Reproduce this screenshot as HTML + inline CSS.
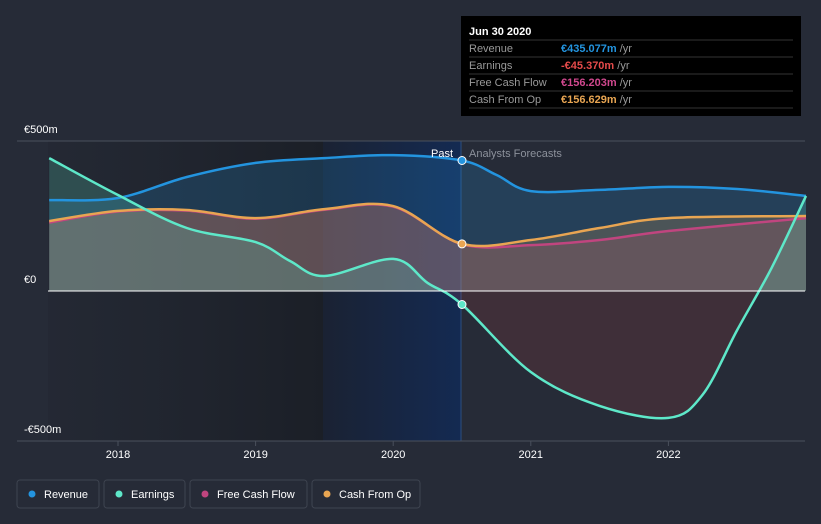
<!DOCTYPE html>
<html><head><meta charset="utf-8"><style>
body{margin:0;background:#262b37;font-family:"Liberation Sans",sans-serif;}
svg{display:block}
</style></head><body>
<svg id="c" width="821" height="524">
<defs>
<linearGradient id="gl" x1="0" x2="1" y1="0" y2="0"><stop offset="0" stop-color="#1f232c" stop-opacity="0.3"/><stop offset="1" stop-color="#1b1f27"/></linearGradient>
<linearGradient id="gb" x1="0" x2="1" y1="0" y2="0"><stop offset="0" stop-color="#1a2233"/><stop offset="1" stop-color="#142a52"/></linearGradient>
<clipPath id="above"><rect x="0" y="0" width="821" height="291"/></clipPath>
<clipPath id="below"><rect x="0" y="291" width="821" height="233"/></clipPath>
</defs>
<rect x="48" y="141" width="275" height="300" fill="url(#gl)"/>
<rect x="323" y="141" width="138" height="300" fill="url(#gb)"/>
<line x1="461" y1="141" x2="461" y2="441" stroke="#2b4f80" stroke-width="1"/>
<line x1="17" y1="141" x2="805" y2="141" stroke="#4a505c"/>
<line x1="17" y1="441" x2="805" y2="441" stroke="#4a505c"/>
<g id="areas"></g><g id="lines"></g>
<line x1="48" y1="291" x2="805" y2="291" stroke="#ffffff" stroke-width="1"/>
<g id="dots"></g>
<g font-size="11" fill="#fff">
<text x="24" y="133">€500m</text>
<text x="24" y="283">€0</text>
<text x="24" y="433">-€500m</text>
<text x="453" y="157" text-anchor="end" font-size="11">Past</text>
<text x="469" y="157" fill="#8c919b" font-size="11">Analysts Forecasts</text>
</g>
<g id="xt" font-size="11" fill="#fff"></g>
<g>
<rect x="461" y="16" width="340" height="100" fill="#000"/>
<text x="469" y="35" font-size="11" font-weight="bold" fill="#fff">Jun 30 2020</text>
<g stroke="#333"><line x1="469" y1="40" x2="793" y2="40"/><line x1="469" y1="57" x2="793" y2="57"/><line x1="469" y1="74" x2="793" y2="74"/><line x1="469" y1="91" x2="793" y2="91"/><line x1="469" y1="108" x2="793" y2="108"/></g>
<g font-size="11" fill="#999">
<text x="469" y="52">Revenue</text><text x="469" y="69">Earnings</text><text x="469" y="86">Free Cash Flow</text><text x="469" y="103">Cash From Op</text></g>
<g font-size="11" font-weight="bold">
<text x="561" y="52" fill="#2394df">€435.077m <tspan fill="#999" font-weight="normal">/yr</tspan></text>
<text x="561" y="69" fill="#e64b4b">-€45.370m <tspan fill="#999" font-weight="normal">/yr</tspan></text>
<text x="561" y="86" fill="#d1488e">€156.203m <tspan fill="#999" font-weight="normal">/yr</tspan></text>
<text x="561" y="103" fill="#e8a552">€156.629m <tspan fill="#999" font-weight="normal">/yr</tspan></text></g>
</g>
<g id="legend" font-size="11" fill="#fff"></g>
</svg>
<script>
const years=[2018,2019,2020,2021,2022];
const revT=[2017.5,2018,2018.5,2019,2019.5,2020,2020.5,2020.75,2021,2021.5,2022,2022.5,2023];
const revV=[303,310,380,427,443,453,435,387,333,337,347,340,317];
const earnT=[2017.5,2018,2018.5,2019,2019.25,2019.5,2020,2020.25,2020.5,2021,2021.5,2022,2022.25,2022.5,2022.75,2023];
const earnV=[443,320,210,163,100,50,107,27,-45,-270,-383,-423,-345,-130,77,317];
const cfoT=[2017.5,2018,2018.5,2019,2019.5,2020,2020.5,2021,2021.5,2022,2023];
const cfoV=[233,267,270,243,273,283,157,170,210,243,250];
const fcfT=[2017.5,2018,2018.5,2019,2019.5,2020,2020.5,2021,2021.5,2022,2023];
const fcfV=[228,265,268,241,271,281,156,153,170,200,243];
const X=t=>118+(t-2018)*137.6, Y=v=>291-v*0.3;
const NS='http://www.w3.org/2000/svg';
function path(T,V){const p=T.map((t,i)=>[X(t),Y(V[i])]);let d=`M${p[0][0]},${p[0][1]}`;
for(let i=0;i<p.length-1;i++){const p0=p[i-1]||p[i],p1=p[i],p2=p[i+1],p3=p[i+2]||p2;
d+=`C${p1[0]+(p2[0]-p0[0])/6},${p1[1]+(p2[1]-p0[1])/6} ${p2[0]-(p3[0]-p1[0])/6},${p2[1]-(p3[1]-p1[1])/6} ${p2[0]},${p2[1]}`;}return [d,p];}
const series=[['revenue',revT,revV,'#2394df'],['free-cash-flow',fcfT,fcfV,'#c0457f'],['cash-from-op',cfoT,cfoV,'#e8a552'],['earnings',earnT,earnV,'#5ee8c9']];
const A=document.getElementById('areas'),L=document.getElementById('lines'),D=document.getElementById('dots');
series.forEach(([n,T,V,c])=>{const [d,p]=path(T,V);
const ad=d+`L${p[p.length-1][0]},291L${p[0][0]},291Z`;
const a=document.createElementNS(NS,'path');a.setAttribute('d',ad);a.setAttribute('fill',c);a.setAttribute('fill-opacity','0.2');a.setAttribute('clip-path','url(#above)');

A.appendChild(a);
const b=document.createElementNS(NS,'path');b.setAttribute('d',ad);b.setAttribute('fill','#e64b4b');b.setAttribute('fill-opacity','0.13');b.setAttribute('clip-path','url(#below)');

A.appendChild(b);
const l=document.createElementNS(NS,'path');l.setAttribute('d',d);l.setAttribute('fill','none');l.setAttribute('stroke',c);l.setAttribute('stroke-width','2.5');

L.appendChild(l);
const i=T.indexOf(2020.5);if(i>=0&&n!=='free-cash-flow'){const ci=document.createElementNS(NS,'circle');ci.setAttribute('cx',X(2020.5));ci.setAttribute('cy',Y(V[i]));ci.setAttribute('r',4);ci.setAttribute('fill',c);ci.setAttribute('stroke','#fff');

D.appendChild(ci);}});
const xt=document.getElementById('xt');
years.forEach(y=>{const t=document.createElementNS(NS,'text');t.setAttribute('x',X(y));t.setAttribute('y',458);t.setAttribute('text-anchor','middle');t.textContent=y;

xt.appendChild(t);
const k=document.createElementNS(NS,'line');k.setAttribute('x1',X(y));k.setAttribute('x2',X(y));k.setAttribute('y1',441);k.setAttribute('y2',446);k.setAttribute('stroke','#4a505c');xt.appendChild(k);});
const leg=[['Revenue','#2394df',17,82],['Earnings','#5ee8c9',104,81],['Free Cash Flow','#c0457f',190,117],['Cash From Op','#e8a552',312,108]];
const G=document.getElementById('legend');
leg.forEach(([n,c,x,w])=>{const g=document.createElementNS(NS,'g');


g.innerHTML=`<rect x="${x}" y="480" width="${w}" height="28" rx="3" fill="none" stroke="#3e4450"/><circle cx="${x+15}" cy="494" r="3.5" fill="${c}"/><text x="${x+27}" y="498">${n}</text>`;G.appendChild(g);});
</script>
</body></html>
